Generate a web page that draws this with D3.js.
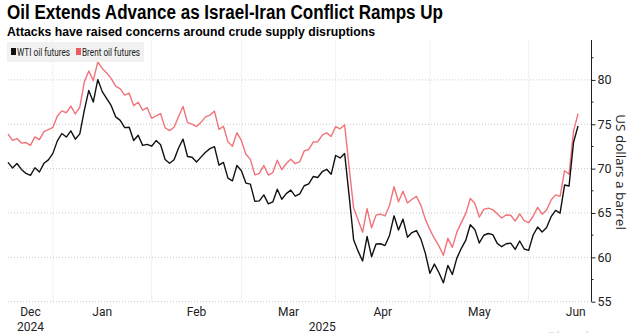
<!DOCTYPE html>
<html>
<head>
<meta charset="utf-8">
<script src="https://cdn.jsdelivr.net/npm/d3@7"></script>
<style>
  html, body { margin: 0; padding: 0; background: #fff; }
  svg { display: block; font-family: "Liberation Sans Narrow", "Roboto", "Liberation Sans", sans-serif; }
</style>
</head>
<body>
<svg id="chart" width="633" height="333"></svg>
<script>
// ---- Data (trading days, Dec 16 2024 – Jun 16 2025) ----
const dates = [
  "2024-12-16","2024-12-17","2024-12-18","2024-12-19","2024-12-20","2024-12-23","2024-12-24","2024-12-26","2024-12-27","2024-12-30","2024-12-31",
  "2025-01-02","2025-01-03","2025-01-06","2025-01-07","2025-01-08","2025-01-09","2025-01-10","2025-01-13","2025-01-14","2025-01-15","2025-01-16","2025-01-17","2025-01-20","2025-01-21","2025-01-22","2025-01-23","2025-01-24","2025-01-27","2025-01-28","2025-01-29","2025-01-30","2025-01-31",
  "2025-02-03","2025-02-04","2025-02-05","2025-02-06","2025-02-07","2025-02-10","2025-02-11","2025-02-12","2025-02-13","2025-02-14","2025-02-17","2025-02-18","2025-02-19","2025-02-20","2025-02-21","2025-02-24","2025-02-25","2025-02-26","2025-02-27","2025-02-28",
  "2025-03-03","2025-03-04","2025-03-05","2025-03-06","2025-03-07","2025-03-10","2025-03-11","2025-03-12","2025-03-13","2025-03-14","2025-03-17","2025-03-18","2025-03-19","2025-03-20","2025-03-21","2025-03-24","2025-03-25","2025-03-26","2025-03-27","2025-03-28","2025-03-31",
  "2025-04-01","2025-04-02","2025-04-03","2025-04-04","2025-04-07","2025-04-08","2025-04-09","2025-04-10","2025-04-11","2025-04-14","2025-04-15","2025-04-16","2025-04-17","2025-04-21","2025-04-22","2025-04-23","2025-04-24","2025-04-25","2025-04-28","2025-04-29","2025-04-30",
  "2025-05-01","2025-05-02","2025-05-05","2025-05-06","2025-05-07","2025-05-08","2025-05-09","2025-05-12","2025-05-13","2025-05-14","2025-05-15","2025-05-16","2025-05-19","2025-05-20","2025-05-21","2025-05-22","2025-05-23","2025-05-26","2025-05-27","2025-05-28","2025-05-29","2025-05-30",
  "2025-06-02","2025-06-03","2025-06-04","2025-06-05","2025-06-06","2025-06-09","2025-06-10","2025-06-11","2025-06-12","2025-06-13","2025-06-16"
];
const wti = [
  70.71,70.08,70.58,69.91,69.46,69.24,70.10,69.62,70.60,70.99,71.72,
  73.13,73.96,73.56,74.25,73.32,73.92,76.57,78.82,77.50,80.04,78.68,77.88,77.10,75.83,75.44,74.62,74.66,73.17,73.77,72.62,72.73,72.53,
  73.16,72.70,71.03,70.61,71.00,72.32,73.32,71.37,71.29,70.74,71.30,71.85,72.25,72.48,70.40,70.70,68.93,68.62,70.35,69.76,
  68.37,68.26,66.31,66.36,67.04,66.03,66.25,67.68,66.55,67.18,67.58,66.90,67.16,68.07,68.28,69.11,69.00,69.65,69.92,69.36,71.48,
  71.20,71.71,66.95,61.99,60.70,59.58,62.35,60.07,61.50,61.53,61.33,62.47,64.68,63.08,64.31,62.27,62.79,63.02,62.05,60.42,58.21,
  59.24,58.29,57.13,59.09,58.07,59.91,61.02,61.95,63.67,63.15,61.62,62.49,62.69,62.56,61.57,61.20,61.53,61.60,60.89,61.84,60.94,60.79,
  62.52,63.41,62.85,63.37,64.58,65.29,64.98,68.15,68.04,72.98,74.80
];
const brent = [
  73.91,73.19,73.39,72.88,72.94,72.63,73.58,73.26,74.17,74.39,74.64,
  75.93,76.51,76.30,77.05,76.16,76.92,79.76,81.01,79.92,82.03,81.29,80.79,80.15,79.29,79.00,78.29,78.50,77.08,77.49,76.58,76.87,75.67,
  75.96,76.20,74.61,74.29,74.66,75.87,77.00,75.18,75.02,74.74,75.22,75.84,76.04,76.48,74.43,74.78,73.02,72.53,74.04,73.18,
  71.62,71.04,69.30,69.46,70.36,69.28,69.56,70.95,69.88,70.58,71.07,70.56,70.78,72.00,72.16,73.00,73.02,73.79,74.03,73.63,74.74,
  74.49,74.95,70.14,65.58,64.21,62.82,65.48,63.33,64.76,64.88,64.67,65.85,67.96,66.26,67.44,66.12,66.55,66.87,65.86,64.25,63.12,
  62.13,61.29,60.23,62.15,61.12,62.84,63.91,64.96,66.63,66.09,64.53,65.41,65.54,65.38,64.91,64.44,64.78,64.74,64.09,64.90,64.15,63.90,
  64.63,65.63,64.86,65.34,66.47,67.04,66.87,69.77,69.36,74.23,76.20
];
const seriesNames = ["WTI oil futures", "Brent oil futures"];
const seriesColors = ["#111111", "#f2727a"];
const yTicks = [55, 60, 65, 70, 75, 80];
const monthNames = ["Jan","Feb","Mar","Apr","May","Jun","Jul","Aug","Sep","Oct","Nov","Dec"];
const titleText = "Oil Extends Advance as Israel-Iran Conflict Ramps Up";
const subtitleText = "Attacks have raised concerns around crude supply disruptions";
const yAxisTitle = "US dollars a barrel";

// ---- Layout ----
const svg = d3.select("#chart");
const parse = d3.timeParse("%Y-%m-%d");
const D = dates.map(parse);
const n = D.length;

const plot = { left: 8, right: 591.5, top: 40, bottom: 301.7 };
const x = d3.scaleLinear().domain([0, 130]).range([plot.left, plot.right]);
const y = d3.scaleLinear().domain([55, 84.5]).range([plot.bottom, plot.top]);

const wideFont = "'Liberation Sans', Arimo, 'DejaVu Sans', sans-serif";

// Title
svg.append("text").attr("x", 7).attr("y", 19)
  .style("font-family", wideFont)
  .attr("font-size", 19.5).attr("font-weight", "bold").attr("fill", "#000")
  .attr("textLength", 436).attr("lengthAdjust", "spacingAndGlyphs")
  .text(titleText);
svg.append("text").attr("x", 7).attr("y", 35.5)
  .style("font-family", wideFont)
  .attr("font-size", 13.5).attr("font-weight", "bold").attr("fill", "#000")
  .attr("textLength", 368).attr("lengthAdjust", "spacingAndGlyphs")
  .text(subtitleText);

// Horizontal gridlines
svg.append("g").selectAll("line").data(yTicks).join("line")
  .attr("x1", plot.left).attr("x2", plot.right)
  .attr("y1", d => y(d)).attr("y2", d => y(d))
  .attr("stroke", "#c9c9c9").attr("stroke-width", 1).attr("stroke-dasharray", "1,2");

// Month boundaries: last trading day of each month
const boundaries = [];
for (let i = 0; i < n - 1; i++) {
  if (D[i].getMonth() !== D[i + 1].getMonth()) boundaries.push(i);
}
svg.append("g").selectAll("line").data(boundaries).join("line")
  .attr("x1", d => x(d)).attr("x2", d => x(d))
  .attr("y1", plot.top).attr("y2", plot.bottom)
  .attr("stroke", "#e2e2e2").attr("stroke-width", 1).attr("stroke-dasharray", "1,1");

// Month labels centred in each month span
const lastDate = D[n - 1];
const lastMonthStart = d3.timeMonth.floor(lastDate);
const lastMonthWeekdays = d3.timeDay.range(lastMonthStart, d3.timeMonth.offset(lastMonthStart, 1))
  .filter(d => d.getDay() !== 0 && d.getDay() !== 6).length;
const edges = [0, ...boundaries, boundaries[boundaries.length - 1] + lastMonthWeekdays];
const monthLabels = [];
for (let k = 0; k < edges.length - 1; k++) {
  const idx = k === 0 ? 0 : edges[k] + 1;
  monthLabels.push({ name: monthNames[D[Math.min(idx, n - 1)].getMonth()], pos: (edges[k] + edges[k + 1]) / 2 });
}
const xAxisG = svg.append("g").attr("font-size", 12).attr("fill", "#222");
xAxisG.selectAll("text.m").data(monthLabels).join("text").attr("class", "m")
  .attr("x", d => x(d.pos)).attr("y", 316).attr("text-anchor", "middle").text(d => d.name);

// Year labels centred over visible span of each year
const yearBreak = boundaries.find(i => D[i].getFullYear() !== D[i + 1].getFullYear());
const yearLabels = [
  { name: String(D[0].getFullYear()), cx: (x(0) + x(yearBreak)) / 2 },
  { name: String(D[n - 1].getFullYear()), cx: (x(yearBreak) + plot.right) / 2 }
];
xAxisG.selectAll("text.yr").data(yearLabels).join("text").attr("class", "yr")
  .attr("x", d => d.cx).attr("y", 330.5).attr("text-anchor", "middle").text(d => d.name);

// Lines
const line = d3.line().x((d, i) => x(i)).y(d => y(d));
[brent, wti].forEach((s, k) => {
  svg.append("path").datum(s)
    .attr("fill", "none")
    .attr("stroke", k === 0 ? seriesColors[1] : seriesColors[0])
    .attr("stroke-width", 1.4)
    .attr("stroke-linejoin", "round")
    .attr("d", line);
});

// Right y axis
const yAxis = d3.axisRight(y).tickValues(yTicks).tickSize(4).tickPadding(2).tickFormat(d3.format("d"));
const yg = svg.append("g").attr("transform", `translate(${plot.right},0)`).call(yAxis);
yg.attr("font-family", null);
yg.select(".domain").attr("stroke", "#222").attr("d", `M0,${plot.top}V${plot.bottom}`);
yg.selectAll(".tick line").attr("stroke", "#222");
yg.selectAll(".tick text").attr("font-size", 12.5).attr("fill", "#222");
// minor ticks
const minor = d3.range(57.5, 84, 5);
yg.selectAll("line.minor").data(minor).join("line").attr("class", "minor")
  .attr("x1", 0).attr("x2", 2).attr("y1", d => y(d)).attr("y2", d => y(d)).attr("stroke", "#222");

// y axis title
svg.append("text")
  .attr("transform", "translate(616,172) rotate(90)")
  .style("font-family", "'Open Sans', 'Liberation Sans', sans-serif")
  .attr("text-anchor", "middle").attr("font-size", 13.5).attr("fill", "#222")
  .text(yAxisTitle);

// Legend
const lg = svg.append("g");
lg.append("rect").attr("x", 7).attr("y", 42).attr("width", 137).attr("height", 20).attr("fill", "#f1f1f1");
const legendItems = [
  { name: seriesNames[0], color: seriesColors[0], x: 11, w: 53 },
  { name: seriesNames[1], color: "#ee5a62", x: 76, w: 58 }
];
legendItems.forEach(it => {
  lg.append("rect").attr("x", it.x).attr("y", 48).attr("width", 5).attr("height", 7).attr("fill", it.color);
  lg.append("text").attr("x", it.x + 6).attr("y", 55.5).attr("font-size", 10.5).attr("fill", "#222")
    .attr("textLength", it.w).attr("lengthAdjust", "spacingAndGlyphs").text(it.name);
});

// Source watermark (mostly cropped, as in the original)
svg.append("text").attr("x", 548).attr("y", 341).attr("font-size", 13).attr("font-weight", "bold")
  .attr("fill", "#e6e6e6").text("Bloomberg");
</script>
</body>
</html>
